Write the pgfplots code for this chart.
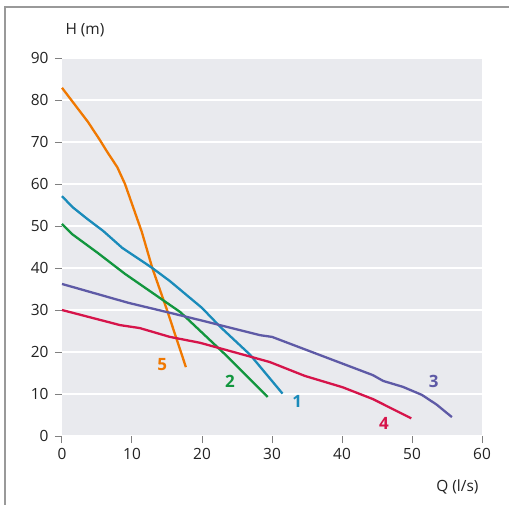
\documentclass[border=0pt]{standalone}
\usepackage{fontspec}
\setmainfont{Open Sans}
\usepackage{pgfplots}
\pgfplotsset{compat=1.18}
\definecolor{cOrange}{HTML}{F07800}
\definecolor{cBlue}{HTML}{1A8BBA}
\definecolor{cGreen}{HTML}{12963E}
\definecolor{cPurple}{HTML}{5E5AA6}
\definecolor{cRed}{HTML}{D6144A}
\definecolor{cBg}{HTML}{E9EAEE}
\definecolor{cTxt}{HTML}{222222}
\begin{document}
\begin{tikzpicture}
\useasboundingbox (-62bp,-69bp) rectangle (447bp,436bp);
\draw[color=black!40, line width=1.4bp] (-57bp,-69bp) -- (-57bp,429bp) -- (447bp,429bp);
\begin{axis}[
  at={(0,0)}, anchor=south west,
  scale only axis, width=420bp, height=378bp,
  xmin=0, xmax=60, ymin=0, ymax=90,
  xtick={0,10,...,60}, ytick={0,10,...,90},
  axis line style={draw=none},
  axis background/.style={fill=cBg},
  ymajorgrids, grid style={white, line width=1.3bp},
  tick align=outside, major tick length=7bp,
  xtick pos=bottom, ytick pos=left,
  tick style={color=black!50, line width=1bp},
  /pgf/number format/assume math mode=true,
  ticklabel style={font=\fontsize{15.5}{17}\selectfont, color=cTxt},
  xticklabel style={yshift=-2bp},
  yticklabel style={xshift=-3bp},
  every axis plot/.append style={line width=2.3bp, line join=round},
  clip=false,
]
% 5 orange
\addplot[cOrange] coordinates {(0,82.9) (3.7,74.8) (5.4,70.5) (6.4,67.8) (7.9,64) (9,60) (11.4,48.6) (12.9,40) (15,30) (17.7,16.4)};
% 1 blue
\addplot[cBlue] coordinates {(0,57.1) (1.5,54.5) (3.6,51.7) (5.9,48.8) (8.6,44.8) (12.9,40) (15.4,36.9) (20,30.5) (22.6,26) (26.9,19.3) (31.5,10.1)};
% 2 green
\addplot[cGreen] coordinates {(0,50.5) (1.5,48.0) (5.1,43.6) (9,38.6) (16.9,29.5) (23.7,18.8) (29.4,9.3)};
% 3 purple
\addplot[cPurple] coordinates {(0,36.2) (9.5,31.7) (15,29.5) (19.7,27.6) (28.3,24) (30,23.6) (38.7,18.1) (44.4,14.5) (45.9,13.1) (48.7,11.7) (51.4,9.8) (53.5,7.5) (55.7,4.5)};
% 4 red
\addplot[cRed] coordinates {(0,30) (8.3,26.4) (11.1,25.7) (15.4,23.6) (19.7,22.2) (26.9,18.9) (29.7,17.6) (34.7,14.3) (40.1,11.6) (44.4,8.8) (49.9,4.2)};
\node[cOrange, font=\fontsize{17}{19}\selectfont\bfseries] at (axis cs:14.3,16.9) {5};
\node[cGreen, font=\fontsize{17}{19}\selectfont\bfseries] at (axis cs:24,13.1) {2};
\node[cBlue, font=\fontsize{17}{19}\selectfont\bfseries] at (axis cs:33.6,8.3) {1};
\node[cPurple, font=\fontsize{17}{19}\selectfont\bfseries] at (axis cs:53.1,13.1) {3};
\node[cRed, font=\fontsize{17}{19}\selectfont\bfseries] at (axis cs:46,3.1) {4};
\node[anchor=base west, color=cTxt, font=\fontsize{15.5}{17}\selectfont, yshift=24bp] at (rel axis cs:0,1) {H (m)};
\node[anchor=base east, color=cTxt, font=\fontsize{15.5}{17}\selectfont, yshift=-55bp] at (rel axis cs:1,0) {Q (l/s)};
\end{axis}
\end{tikzpicture}
\end{document}
